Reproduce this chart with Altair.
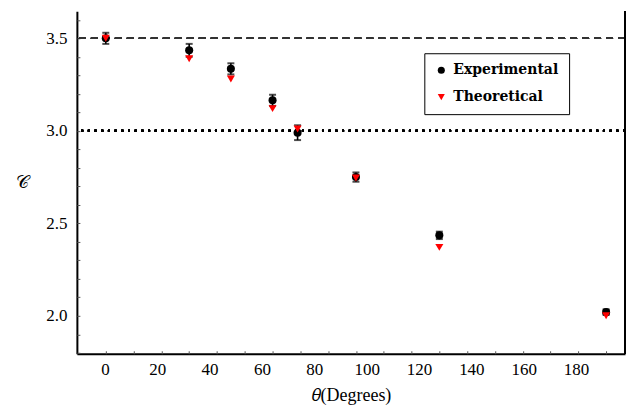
import altair as alt
import pandas as pd
import numpy as np

# ---- data ----
theta = [0, 30, 45, 60, 69, 90, 120, 180]
experimental = [3.50, 3.435, 3.335, 3.165, 2.99, 2.75, 2.435, 2.02]
exp_error = [0.03, 0.035, 0.03, 0.03, 0.04, 0.025, 0.02, 0.015]
theoretical = [3.50, 3.39, 3.28, 3.12, 3.01, 2.745, 2.37, 2.00]
series_names = ["Experimental", "Theoretical"]
x_tick_labels = [0, 20, 40, 60, 80, 100, 120, 140, 160, 180]
y_tick_labels = [2.0, 2.5, 3.0, 3.5]
ref_levels = [3.5, 3.0]

W, H = 549, 343
x_dom = [-10.4, 186.8]
lab_dom = [-10.7, 198.7]
y_dom = [1.795, 3.646]
SERIF = "Liberation Serif"
BOLD = "DejaVu Serif"

pts = pd.DataFrame({
    "theta": theta * 2,
    "C": experimental + theoretical,
    "series": [series_names[0]] * len(theta) + [series_names[1]] * len(theta),
})
err = pd.DataFrame({
    "theta": theta,
    "lo": [v - e for v, e in zip(experimental, exp_error)],
    "hi": [v + e for v, e in zip(experimental, exp_error)],
})
labdf = pd.DataFrame({"t": x_tick_labels})

xs = alt.Scale(domain=x_dom, nice=False, zero=False)
ys = alt.Scale(domain=y_dom, nice=False, zero=False)

minor_x = list(range(0, 181, 10))
minor_y = [round(v, 1) for v in np.arange(1.8, 3.61, 0.1)]

tick_axis_x = alt.Axis(orient="bottom", values=minor_x, labels=False, domain=False,
                       ticks=True, tickSize=3, tickColor="#555", tickWidth=1,
                       offset=-3, title=None, grid=False)
tick_axis_y = alt.Axis(orient="left", values=minor_y, labels=False, domain=False,
                       ticks=True, tickSize=3, tickColor="#555", tickWidth=1,
                       offset=-3, title=None, grid=False)

main_axis_x = alt.Axis(orient="bottom", labels=False, ticks=False, domain=True,
                       domainColor="black", domainWidth=2, title=None, grid=False)
main_axis_y = alt.Axis(orient="left", values=y_tick_labels, format=".1f", ticks=False,
                       domain=True, domainColor="black", domainWidth=2, grid=False,
                       labelFont=SERIF, labelFontSize=17, labelColor="black",
                       labelPadding=10,
                       title="𝒞", titleFont="DejaVu Serif", titleFontSize=18,
                       titleFontWeight="normal",
                       titleAngle=0, titleX=-55, titleY=H / 2, titleAlign="center",
                       titleBaseline="middle", titleColor="black")

dashed = alt.Chart(pts).mark_rule(color="#333333", strokeWidth=1.2, strokeDash=[7, 5]).encode(
    y=alt.datum(ref_levels[0], scale=ys, axis=None))
dotted = alt.Chart(pts).mark_rule(color="black", strokeWidth=2, strokeDash=[2, 4.7]).encode(
    y=alt.datum(ref_levels[1], scale=ys, axis=None))

bars = alt.Chart(err).mark_rule(color="black", strokeWidth=1.6).encode(
    x=alt.X("theta:Q", scale=xs, axis=main_axis_x),
    y=alt.Y("lo:Q", scale=ys, axis=main_axis_y),
    y2="hi:Q",
)
cap_lo = alt.Chart(err).mark_tick(orient="horizontal", color="black", size=7, thickness=2).encode(
    x=alt.X("theta:Q", scale=xs, axis=None),
    y=alt.Y("lo:Q", scale=ys, axis=None),
)
cap_hi = alt.Chart(err).mark_tick(orient="horizontal", color="black", size=7, thickness=2).encode(
    x=alt.X("theta:Q", scale=xs, axis=None),
    y=alt.Y("hi:Q", scale=ys, axis=None),
)

legend = alt.Legend(orient="none", legendX=348, legendY=42, title=None,
                    strokeColor="black", fillColor="white", padding=10,
                    labelFont=BOLD, labelFontWeight="bold", labelFontSize=14,
                    labelColor="black", symbolSize=50, rowPadding=13, labelOffset=5,
                    symbolStrokeWidth=0, cornerRadius=0)

points = alt.Chart(pts).mark_point(filled=True, opacity=1, size=65).encode(
    x=alt.X("theta:Q", scale=xs, axis=tick_axis_x),
    y=alt.Y("C:Q", scale=ys, axis=tick_axis_y),
    color=alt.Color("series:N", scale=alt.Scale(domain=series_names, range=["black", "red"]),
                    legend=legend),
    shape=alt.Shape("series:N", scale=alt.Scale(domain=series_names,
                                                range=["circle", "triangle-down"]),
                    legend=legend),
    order=alt.Order("idx:Q"),
).transform_window(idx="row_number()")

right_border = alt.Chart(pts).mark_rule(color="black", strokeWidth=1).encode(
    x=alt.value(W), y=alt.value(0), y2=alt.value(H))

inner = alt.layer(dashed, dotted, bars, cap_lo, cap_hi, points, right_border).resolve_axis(
    x="independent", y="independent")

label_layer = alt.Chart(labdf).mark_point(opacity=0).encode(
    x=alt.X("t:Q", scale=alt.Scale(domain=lab_dom, nice=False, zero=False),
            axis=alt.Axis(orient="bottom", values=x_tick_labels, domain=False, ticks=False,
                          grid=False, labelFont=SERIF, labelFontSize=17, labelColor="black",
                          labelPadding=8, title="𝜃(Degrees)", titleFont=SERIF,
                          titleFontSize=18, titleFontWeight="normal", titleColor="black",
                          titlePadding=9))
)

chart = alt.layer(inner, label_layer).resolve_scale(x="independent").properties(
    width=W, height=H, padding={"left": 7, "top": 2, "right": 2, "bottom": 2},
).configure_view(stroke=None)

chart.save("out.html", embed_options={"renderer": "svg", "actions": False})
